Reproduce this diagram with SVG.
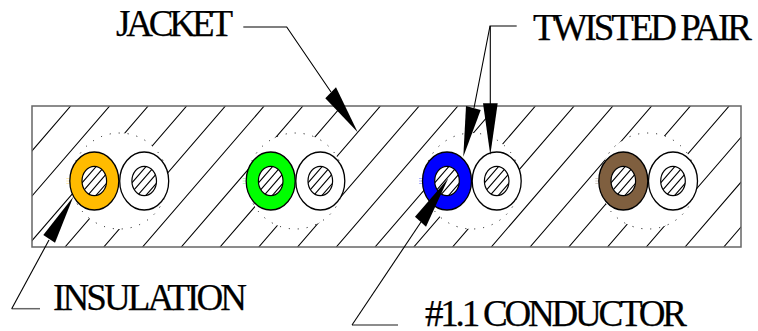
<svg xmlns="http://www.w3.org/2000/svg" width="758" height="331" viewBox="0 0 758 331">
<style>
text{font-family:"Liberation Serif","Times New Roman",serif;font-size:37px;fill:#000;stroke:#000;stroke-width:.25}
.ln{fill:none;stroke:#000;stroke-width:1.100}
.gr{fill:none;stroke:#666;stroke-width:1.500}
.ah{fill:#000;stroke:none}
.dot{fill:#fff;stroke:#000;stroke-width:1;stroke-dasharray:1 8}
.ring{stroke:#000;stroke-width:1.300}
.wh{fill:#fff}
.rim{fill:none;stroke:#000;stroke-width:1.200}
.tick{fill:none;stroke-width:.7;stroke-opacity:.45}
</style>
<defs>
<clipPath id="c"><rect x="32" y="106" width="709" height="141"/></clipPath>
<clipPath id="cc"><ellipse rx="12.300" ry="14.700"/></clipPath>
<g id="core">
<ellipse class="wh" rx="12.300" ry="14.700"/>
<path class="ln" clip-path="url(#cc)" d="M-33 16l33-38M-24.600 16l33-38M-16.300 16l33-38M-8 16l33-38M.3 16l33-38M8.600 16l33-38"/>
<ellipse class="rim" rx="12.300" ry="14.700"/>
</g>
<path id="ticks" d="M-28 -2.500H-25M-28 0H-25M-28 2.500H-25M25 -2.500H28M25 0H28M25 2.500H28"/>
</defs>
<g id="jacket">
<rect x="32" y="106" width="709" height="141" fill="#fff"/>
<path class="ln" clip-path="url(#c)" d="M-90 247l121.700-141M-51 247l121.700-141M-12 247l121.700-141M26.500 247l121.700-141M65 247l121.700-141M103.750 247l121.700-141M142.500 247l121.700-141M181.250 247l121.700-141M220 247l121.700-141M258.750 247l121.700-141M297.500 247l121.700-141M336.250 247l121.700-141M375 247l121.700-141M413.750 247l121.700-141M452.500 247l121.700-141M491.250 247l121.700-141M530 247l121.700-141M568.750 247l121.700-141M607.500 247l121.700-141M646.250 247l121.700-141M685 247l121.700-141M723.750 247l121.700-141"/>
<rect x="32" y="106" width="709" height="141" fill="none" stroke="#666" stroke-width="1.500"/>
</g>
<g id="pair-1">
<circle class="dot" cx="119.500" cy="181" r="48"/>
<use href="#ticks" x="94.300" y="181" class="tick" stroke="#ffbb00"/>
<ellipse class="ring" cx="94.300" cy="181" rx="24.500" ry="29" fill="#ffbb00"/><use href="#core" x="94.300" y="181"/>
<ellipse class="ring" cx="144.200" cy="181" rx="24.500" ry="29" fill="#fff"/><use href="#core" x="144.200" y="181"/>
</g>
<g id="pair-2">
<circle class="dot" cx="295.500" cy="181" r="48"/>
<use href="#ticks" x="270.700" y="181" class="tick" stroke="#00ff00"/>
<ellipse class="ring" cx="270.700" cy="181" rx="24.500" ry="29" fill="#00ff00"/><use href="#core" x="270.700" y="181"/>
<ellipse class="ring" cx="320.300" cy="181" rx="24.500" ry="29" fill="#fff"/><use href="#core" x="320.300" y="181"/>
</g>
<g id="pair-3">
<circle class="dot" cx="472" cy="181" r="48"/>
<use href="#ticks" x="447" y="181" class="tick" stroke="#0000ff"/>
<ellipse class="ring" cx="447" cy="181" rx="24.500" ry="29" fill="#0000ff"/><use href="#core" x="447" y="181"/>
<ellipse class="ring" cx="496.700" cy="181" rx="24.500" ry="29" fill="#fff"/><use href="#core" x="496.700" y="181"/>
</g>
<g id="pair-4">
<circle class="dot" cx="648" cy="181" r="48"/>
<use href="#ticks" x="623.300" y="181" class="tick" stroke="#7f5f3f"/>
<ellipse class="ring" cx="623.300" cy="181" rx="24.500" ry="29" fill="#7f5f3f"/><use href="#core" x="623.300" y="181"/>
<ellipse class="ring" cx="673" cy="181" rx="24.500" ry="29" fill="#fff"/><use href="#core" x="673" y="181"/>
</g>
<g id="connectors">
<path class="ln" d="M243.300 27H286.700L331 92"/>
<polygon class="ah" points="325.300,98.300 336,87.300 357.700,132.300"/>
<path class="gr" d="M11.700 308.700H40"/><path class="ln" d="M11.700 308.700L49 240"/>
<polygon class="ah" points="43.300,235 55,242.700 73.300,196.700"/>
<path class="ln" d="M516.700 26H490L474 108"/><path class="ln" stroke-width="1.500" d="M490.300 26V104"/>
<polygon class="ah" points="466,106 480.700,110 463.300,156.700"/>
<polygon class="ah" points="483,103.300 497.700,103.300 490.300,155"/>
<path class="gr" d="M352 325H398"/><path class="ln" d="M352 325L421 222"/>
<polygon class="ah" points="415,216.700 426,226.700 448.300,178.300"/>
</g>
<g id="labels">
<text x="116" y="36" textLength="117" lengthAdjust="spacing">JACKET</text>
<text x="533" y="40" textLength="219" lengthAdjust="spacing">TWISTED PAIR</text>
<text x="53" y="310" textLength="194" lengthAdjust="spacing">INSULATION</text>
<text x="425" y="326" textLength="262" lengthAdjust="spacing">#1.1 CONDUCTOR</text>
</g>
</svg>
